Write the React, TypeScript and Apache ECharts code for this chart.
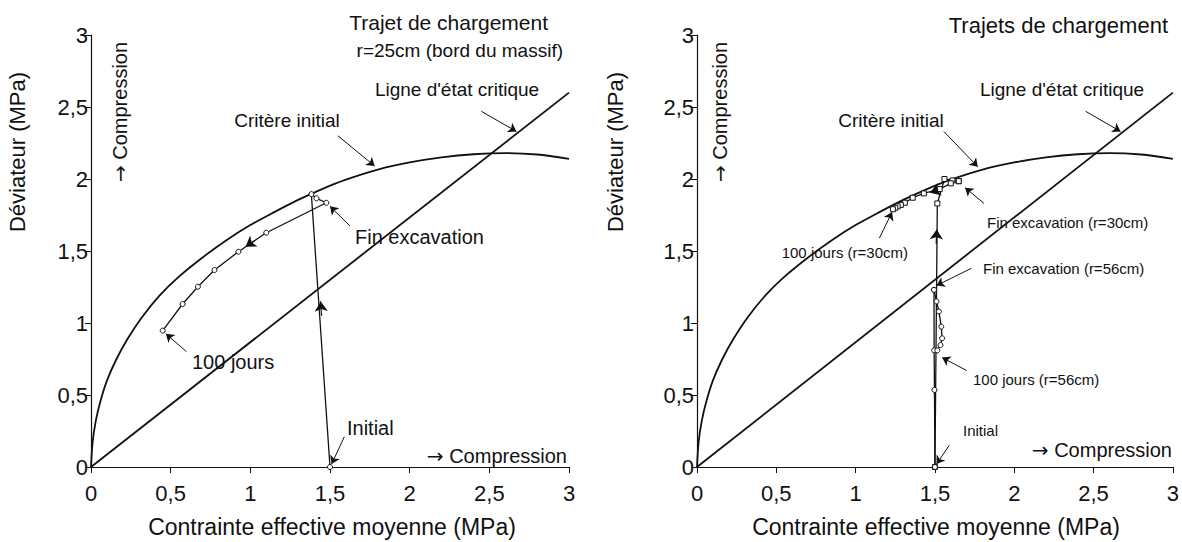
import React, { useEffect, useRef } from "react";
import * as echarts from "echarts";

// ---------- data ----------
const xTicks = [0, 0.5, 1, 1.5, 2, 2.5, 3];
const yTicks = [0, 0.5, 1, 1.5, 2, 2.5, 3];

// initial yield criterion (Critère initial)
const criterionCurve: number[][] = [
  [0, 0], [0.01, 0.17], [0.03, 0.32], [0.06, 0.46], [0.1, 0.6], [0.16, 0.75],
  [0.23, 0.89], [0.32, 1.04], [0.43, 1.19], [0.55, 1.32], [0.7, 1.455], [0.85, 1.575],
  [1.0, 1.68], [1.15, 1.77], [1.3, 1.855], [1.45, 1.93], [1.6, 1.995], [1.8, 2.065],
  [2.0, 2.115], [2.2, 2.15], [2.4, 2.172], [2.6, 2.18], [2.8, 2.17], [3.0, 2.14],
];
// critical state line
const criticalLine: number[][] = [[0, 0], [3, 2.6]];

// left: r = 25 cm
const leftPath: number[][] = [
  [1.5, 0], [1.383, 1.895], [1.415, 1.866], [1.477, 1.835], [1.1, 1.627],
  [0.925, 1.495], [0.775, 1.368], [0.671, 1.252], [0.575, 1.132], [0.45, 0.947],
];
// right: r = 30 cm
const r30Loading: number[][] = [[1.5, 0], [1.515, 1.83], [1.56, 2.0], [1.61, 1.99], [1.65, 1.985]];
const r30Creep: number[][] = [
  [1.65, 1.985], [1.6, 1.97], [1.53, 1.93], [1.43, 1.9], [1.36, 1.87], [1.31, 1.835],
  [1.285, 1.82], [1.265, 1.81], [1.25, 1.8], [1.235, 1.79],
];
// right: r = 56 cm
const r56Loading: number[][] = [[1.5, 0], [1.497, 0.535], [1.495, 0.81], [1.494, 1.23]];
const r56Creep: number[][] = [
  [1.494, 1.23], [1.51, 1.15], [1.525, 1.08], [1.54, 0.975], [1.545, 0.894], [1.535, 0.847], [1.515, 0.81],
];

// annotation arrows [tail, head]
const leftArrows: number[][][] = [
  [[1.55, 2.3], [1.78, 2.09]],
  [[2.45, 2.47], [2.67, 2.33]],
  [[1.625, 1.674], [1.5, 1.81]],
  [[0.6, 0.8], [0.47, 0.925]],
  [[1.59, 0.21], [1.51, 0.02]],
];
const leftPathArrows: number[][][] = [
  [[1.447, 1.05], [1.441, 1.15]],
  [[1.03, 1.575], [0.97, 1.53]],
];
const rightArrows: number[][][] = [
  [[1.556, 2.33], [1.77, 2.085]],
  [[2.45, 2.47], [2.67, 2.33]],
  [[1.81, 1.83], [1.69, 1.94]],
  [[1.15, 1.59], [1.23, 1.77]],
  [[1.73, 1.38], [1.51, 1.26]],
  [[1.7, 0.67], [1.545, 0.76]],
  [[1.59, 0.15], [1.51, 0.02]],
];
const rightPathArrows: number[][][] = [
  [[1.508, 1.55], [1.511, 1.65]],
  [[1.52, 1.925], [1.47, 1.905]],
];

// ---------- styles ----------
const FONT = '"Liberation Sans", Arial, Helvetica, sans-serif';
const ARROW_FONT = '"DejaVu Sans", sans-serif';
const INK = "#111";
const fmt = (v: number) => String(v).replace(".", ",");

function axes(gridIndex: number) {
  const common = {
    gridIndex,
    type: "value" as const,
    min: 0,
    max: 3,
    interval: 0.5,
    splitLine: { show: false },
    axisLine: { show: true, onZero: false, lineStyle: { color: INK, width: 1.2 } },
    axisTick: { show: true, length: 6, lineStyle: { color: INK, width: 1 } },
  };
  return {
    x: { ...common, axisLabel: { formatter: fmt, color: INK, fontSize: 22, fontFamily: FONT, margin: 15 } },
    y: { ...common, axisLabel: { formatter: fmt, color: INK, fontSize: 22, fontFamily: FONT, margin: 3 } },
  };
}

function curve(name: string, data: number[][], idx: number, width = 1.8) {
  return {
    name, type: "line", data, xAxisIndex: idx, yAxisIndex: idx, smooth: 0.3,
    showSymbol: false, symbol: "none", lineStyle: { color: INK, width }, z: 2, silent: true,
  };
}
function path(name: string, data: number[][], idx: number, symbol = "circle") {
  return {
    name, type: "line", data, xAxisIndex: idx, yAxisIndex: idx, smooth: false,
    showSymbol: true, symbol, symbolSize: 5,
    itemStyle: { color: "#fff", borderColor: INK, borderWidth: 1 },
    lineStyle: { color: INK, width: 1.3 }, z: 4, silent: true,
  };
}
function arrows(name: string, list: number[][][], idx: number, size = 8, width = 1.1) {
  return {
    name, type: "lines", coordinateSystem: "cartesian2d", xAxisIndex: idx, yAxisIndex: idx,
    symbol: ["none", "arrow"], symbolSize: size,
    lineStyle: { color: INK, width, opacity: 1, curveness: 0 },
    data: list.map((c) => ({ coords: c })), z: 5, silent: true,
  };
}

function txt(text: string, x: number, y: number, size: number, align = "left", rot = 0) {
  return {
    type: "text", x, y, rotation: rot, silent: true,
    style: {
      text, fontSize: size, fontFamily: FONT, fill: INK, align, verticalAlign: "middle",
      rich: { a: { fontFamily: ARROW_FONT, fontSize: size, fill: INK } },
    },
  };
}
const COMP = "{a|→} Compression";

export default function App() {
  const ref = useRef<HTMLDivElement>(null);
  useEffect(() => {
    if (!ref.current) return;
    const chart = echarts.init(ref.current, undefined, { renderer: "svg" });
    const a0 = axes(0);
    const a1 = axes(1);
    chart.setOption({
      animation: false,
      backgroundColor: "#fff",
      grid: [
        { left: 91, top: 35, width: 478, height: 432 },
        { left: 697, top: 35, width: 478, height: 432 },
      ],
      xAxis: [a0.x, a1.x],
      yAxis: [a0.y, a1.y],
      series: [
        curve("Critère initial", criterionCurve, 0),
        curve("Ligne d'état critique", criticalLine, 0),
        path("r=25cm", leftPath, 0),
        arrows("annot-left", leftArrows, 0, 8, 1),
        arrows("path-left", leftPathArrows, 0, 10, 1.2),
        curve("Critère initial ", criterionCurve, 1),
        curve("Ligne d'état critique ", criticalLine, 1),
        path("r=30cm chargement", r30Loading, 1, "rect"),
        path("r=30cm 100 jours", r30Creep, 1, "rect"),
        path("r=56cm chargement", r56Loading, 1),
        path("r=56cm 100 jours", r56Creep, 1),
        arrows("annot-right", rightArrows, 1, 8, 1),
        arrows("path-right", rightPathArrows, 1, 10, 1.2),
      ],
      graphic: [
        // left
        txt("Déviateur (MPa)", 17, 152, 22, "center", Math.PI / 2),
        txt(COMP, 120, 112, 20, "center", Math.PI / 2),
        txt("Contrainte effective moyenne (MPa)", 332, 527, 23, "center"),
        txt("Trajet de chargement", 548, 22, 21, "right"),
        txt("r=25cm (bord du massif)", 563, 50, 19, "right"),
        txt("Ligne d'état critique", 457, 89, 19, "center"),
        txt("Critère initial", 287, 120, 19, "center"),
        txt("Fin excavation", 355, 237, 20),
        txt("100 jours", 192, 362, 20),
        txt("Initial", 347, 428, 20),
        txt(COMP, 567, 456, 20, "right"),
        // right
        txt("Déviateur (MPa)", 615, 152, 22, "center", Math.PI / 2),
        txt(COMP, 720, 112, 20, "center", Math.PI / 2),
        txt("Contrainte effective moyenne (MPa)", 936, 527, 23, "center"),
        txt("Trajets de chargement", 1168, 25, 22, "right"),
        txt("Ligne d'état critique", 1062, 89, 19, "center"),
        txt("Critère initial", 891, 120, 19, "center"),
        txt("Fin excavation (r=30cm)", 987, 222, 15),
        txt("100 jours (r=30cm)", 908, 252, 15, "right"),
        txt("Fin excavation (r=56cm)", 983, 268, 15),
        txt("100 jours (r=56cm)", 973, 379, 15),
        txt("Initial", 963, 430, 15),
        txt(COMP, 1172, 450, 20, "right"),
      ],
    });
    return () => chart.dispose();
  }, []);
  return (
    <div
      ref={ref}
      style={{ position: "absolute", left: 0, top: 0, width: 1182, height: 542, background: "#fff" }}
    />
  );
}
